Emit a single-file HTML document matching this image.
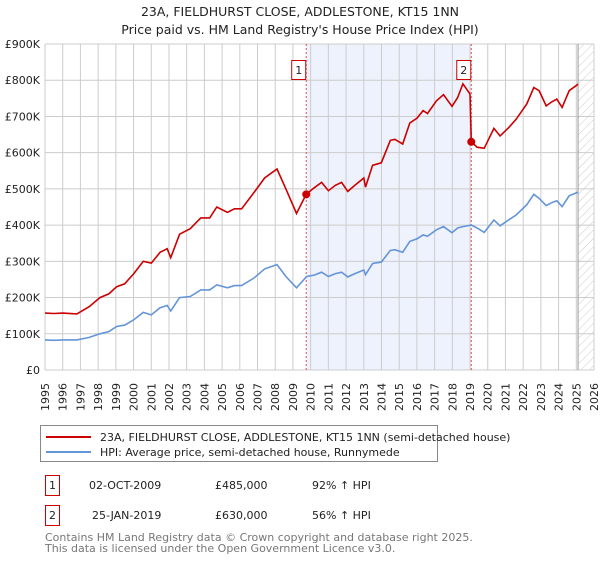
<!DOCTYPE html>
<html><head><meta charset="utf-8">
<style>
body{margin:0;background:#fff;font-family:"DejaVu Sans","Liberation Sans",sans-serif;}
svg text{font-family:"DejaVu Sans","Liberation Sans",sans-serif;}
</style></head>
<body>
<svg id="chart" width="600" height="560" viewBox="0 0 600 560" xmlns="http://www.w3.org/2000/svg">
<text x="300" y="16" text-anchor="middle" font-size="12.5" fill="#222">23A, FIELDHURST CLOSE, ADDLESTONE, KT15 1NN</text>
<text x="300" y="34" text-anchor="middle" font-size="12.5" fill="#222">Price paid vs. HM Land Registry's House Price Index (HPI)</text>
<g id="plot"></g>
<g>
<rect x="40.5" y="425.5" width="397" height="36" fill="#fff" stroke="#888"/>
<line x1="46" y1="437" x2="91" y2="437" stroke="#cc0000" stroke-width="2"/>
<text x="100" y="441" font-size="11" fill="#222">23A, FIELDHURST CLOSE, ADDLESTONE, KT15 1NN (semi-detached house)</text>
<line x1="46" y1="452" x2="91" y2="452" stroke="#6495d8" stroke-width="2"/>
<text x="100" y="456" font-size="11" fill="#222">HPI: Average price, semi-detached house, Runnymede</text>
</g>
<g font-size="11" fill="#222">
<rect x="45.5" y="475.5" width="14" height="20" fill="#fff" stroke="#cc0000"/>
<text x="52.5" y="489" text-anchor="middle">1</text>
<text x="89" y="489">02-OCT-2009</text>
<text x="215" y="489">£485,000</text>
<text x="312" y="489">92% ↑ HPI</text>
<rect x="45.5" y="505.5" width="14" height="20" fill="#fff" stroke="#cc0000"/>
<text x="52.5" y="519" text-anchor="middle">2</text>
<text x="92" y="519">25-JAN-2019</text>
<text x="215" y="519">£630,000</text>
<text x="312" y="519">56% ↑ HPI</text>
</g>
<text x="45" y="541" font-size="11" fill="#777">Contains HM Land Registry data © Crown copyright and database right 2025.</text>
<text x="45" y="552" font-size="11" fill="#777">This data is licensed under the Open Government Licence v3.0.</text>
</svg>
<script>
const yTicks=[0,100,200,300,400,500,600,700,800,900];
const yTickLabels=["£0","£100K","£200K","£300K","£400K","£500K","£600K","£700K","£800K","£900K"];
const xYears=[1995,1996,1997,1998,1999,2000,2001,2002,2003,2004,2005,2006,2007,2008,2009,2010,2011,2012,2013,2014,2015,2016,2017,2018,2019,2020,2021,2022,2023,2024,2025,2026];
const hpiDates=[1995.0,1995.5,1996.0,1996.8,1997.5,1998.1,1998.6,1999.05,1999.5,2000.0,2000.55,2001.0,2001.5,2001.9,2002.1,2002.6,2003.2,2003.8,2004.3,2004.7,2005.3,2005.7,2006.1,2006.8,2007.4,2008.1,2008.6,2009.2,2009.78,2010.2,2010.62,2011.0,2011.4,2011.75,2012.1,2012.5,2013.0,2013.1,2013.5,2013.99,2014.5,2014.75,2015.2,2015.6,2016.0,2016.35,2016.6,2017.1,2017.5,2017.98,2018.3,2018.6,2019.07,2019.4,2019.8,2020.35,2020.7,2021.2,2021.6,2022.2,2022.6,2022.9,2023.3,2023.6,2023.9,2024.2,2024.6,2025.1];
const hpiValues=[83,82,83,83,90,100,106,120,124,138,159,152,172,178,163,200,203,221,221,235,227,233,233,254,279,291,258,227,258,262,270,258,266,270,257,266,276,263,294,298,330,332,325,355,362,373,369,387,396,379,392,396,400,392,380,414,398,415,428,456,485,474,454,462,467,451,481,491];
const priceDates=[1995.0,1995.5,1996.0,1996.8,1997.5,1998.1,1998.6,1999.05,1999.5,2000.0,2000.55,2001.0,2001.5,2001.9,2002.1,2002.6,2003.2,2003.8,2004.3,2004.7,2005.3,2005.7,2006.1,2006.8,2007.4,2008.1,2008.6,2009.2,2009.75,2010.2,2010.62,2011.0,2011.4,2011.75,2012.1,2012.5,2013.0,2013.1,2013.5,2013.99,2014.5,2014.75,2015.2,2015.6,2016.0,2016.35,2016.6,2017.1,2017.5,2017.98,2018.3,2018.6,2019.0,2019.07,2019.4,2019.8,2020.35,2020.7,2021.2,2021.6,2022.2,2022.6,2022.9,2023.3,2023.6,2023.9,2024.2,2024.6,2025.1];
const priceValues=[157,156,157,155,175,200,210,230,238,265,300,295,325,335,310,375,390,420,420,450,435,445,445,490,530,555,500,432,485,503,518,495,510,518,493,510,530,505,565,572,634,637,624,682,695,716,708,743,760,728,752,790,762,630,615,612,667,646,670,692,734,780,771,729,740,748,725,771,789];
const saleDates=[2009.75,2019.07];
const saleValues=[485,630];
const saleLabels=["1","2"];

const X0=45,X1=594,Y0=370,Y1=44;
const xs=y=>X0+(y-1995)/(2026-1995)*(X1-X0);
const ys=v=>Y0-v/900*(Y0-Y1);
const NS="http://www.w3.org/2000/svg";
const plot=document.getElementById('plot');
function mk(tag,attrs,parent){const e=document.createElementNS(NS,tag);for(const k in attrs)e.setAttribute(k,attrs[k]);(parent||plot).appendChild(e);return e;}

const shade=mk('rect',{x:xs(saleDates[0]),y:Y1,width:xs(saleDates[1])-xs(saleDates[0]),height:Y0-Y1,fill:'#eef2fc'});



const defs=mk('defs',{});
const pat=mk('pattern',{id:'hatch',width:6,height:6,patternUnits:'userSpaceOnUse',patternTransform:'rotate(45)'},defs);
mk('line',{x1:0,y1:0,x2:0,y2:6,stroke:'#ccc','stroke-width':1},pat);
const hx=xs(2025.1);
const hatch=mk('rect',{x:hx,y:Y1,width:X1-hx,height:Y0-Y1,fill:'url(#hatch)'});



xYears.forEach(yr=>{
  const l=mk('line',{x1:xs(yr),y1:Y1,x2:xs(yr),y2:Y0,stroke:'#ccc','stroke-width':1});
  
  
  const t=mk('text',{x:0,y:0,'font-size':11,fill:'#222','text-anchor':'end',transform:`translate(${xs(yr)+4},${Y0+13}) rotate(-90)`});
  t.textContent=yr;
  
  
});
yTicks.forEach((v,i)=>{
  const l=mk('line',{x1:X0,y1:ys(v),x2:X1,y2:ys(v),stroke:'#ccc','stroke-width':1});
  
  
  const t=mk('text',{x:X0-5,y:ys(v)+4,'font-size':11,fill:'#222','text-anchor':'end'});
  t.textContent=yTickLabels[i];
  
  
});
mk('line',{x1:hx,y1:Y1,x2:hx,y2:Y0,stroke:'#999','stroke-width':1});

saleDates.forEach((d,i)=>{
  const l=mk('line',{x1:xs(d),y1:Y1,x2:xs(d),y2:Y0,stroke:'#e05050','stroke-width':1,'stroke-dasharray':'2,2'});
  
  
  const g=mk('g',{});
  
  
  mk('rect',{x:xs(d)-14.5,y:60.5,width:14,height:19,fill:'#fff',stroke:'#cc0000'},g);
  const t=mk('text',{x:xs(d)-7.5,y:74,'font-size':11,fill:'#222','text-anchor':'middle'},g);
  t.textContent=saleLabels[i];
});

const hp=mk('polyline',{points:hpiDates.map((d,i)=>xs(d).toFixed(1)+','+ys(hpiValues[i]).toFixed(1)).join(' '),fill:'none',stroke:'#6495d8','stroke-width':1.6});


const pr=mk('polyline',{points:priceDates.map((d,i)=>xs(d).toFixed(1)+','+ys(priceValues[i]).toFixed(1)).join(' '),fill:'none',stroke:'#cc0000','stroke-width':1.6});


saleDates.forEach((d,i)=>{
  const c=mk('circle',{cx:xs(d),cy:ys(saleValues[i]),r:4,fill:'#cc0000'});
  
  
});
</script>
</body></html>
